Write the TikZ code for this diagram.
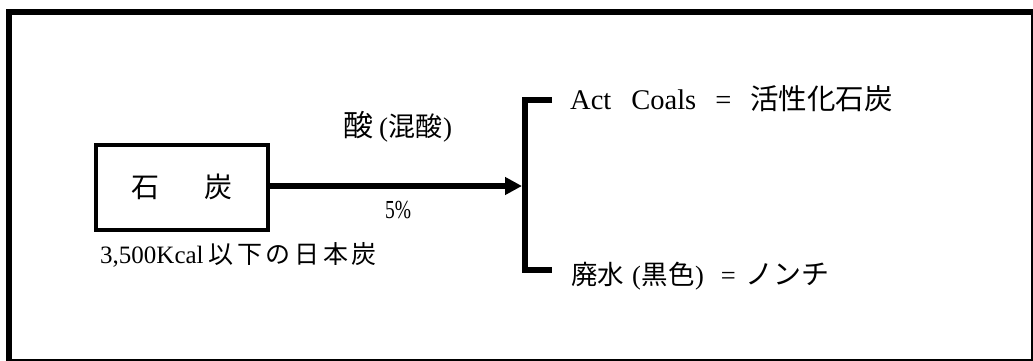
\documentclass[tikz,border=0pt]{standalone}
\usepackage{fontspec}
\setmainfont{Liberation Serif}
\newfontfamily\cjk{Noto Sans CJK JP}
\newfontfamily\condserif{Liberation Serif}[FakeStretch=0.75]
\usetikzlibrary{arrows.meta}
\newcommand\jpc[1]{\makebox[28.7pt][c]{\cjk #1}}
\begin{document}
\begin{tikzpicture}[x=1pt,y=-1pt,
  thickline/.style={line width=6pt},
  lbl/.style={inner sep=0pt, anchor=base west}]
\useasboundingbox (0,0) rectangle (1033,361);
\clip (0,0) rectangle (1033,361);
\fill[white] (0,0) rectangle (1033,361);
\draw[thickline] (9,12) rectangle (1034,362);
% coal box
\node[draw, line width=4pt, minimum width=172pt, minimum height=85.5pt,
      inner sep=0pt, text height=22pt, text depth=2pt,
      font=\cjk\fontsize{28}{30}\selectfont] (coal) at (182,187.25) {石\hspace{46pt}炭};
% bracket
\coordinate (b1) at (552,100);
\coordinate (b2) at (525,100);
\coordinate (b3) at (525,270);
\coordinate (b4) at (552,270);
\draw[thickline] (b1) -- (b2) -- (b3) -- (b4);
% arrow
\coordinate (tip) at (522,186);
\draw[thickline, -{Triangle[length=17pt,width=17pt]}] (coal.east |- tip) -- (tip);
% labels
\node[lbl] (acid) at (343,136) {{\cjk\fontsize{30}{32}\selectfont 酸}\hspace{6pt}{\fontsize{27}{29}\selectfont(\hspace{0.5pt}{\cjk 混酸}\hspace{0.5pt})}};
\node[lbl] (pct) at (385,218) {\condserif\fontsize{26}{28}\selectfont 5\%};
\node[lbl] (coaldesc) at (100,263) {\fontsize{25}{27}\selectfont 3,500Kcal\hspace{3pt}{\fontsize{25}{27}\selectfont\jpc{以}\jpc{下}\jpc{の}\jpc{日}\jpc{本}\jpc{炭}}};
\node[lbl] (act) at (570,109) {\fontsize{28.5}{30}\selectfont Act\hspace{20pt}Coals\hspace{19pt}=\hspace{19pt}{\cjk\fontsize{28.5}{30}\selectfont 活性化石炭}};
\node[lbl] (waste) at (571,284) {\fontsize{26.5}{28}\selectfont {\cjk 廃水}\hspace{8pt}(\hspace{0.5pt}{\cjk 黒色}\hspace{0.5pt})\hspace{17pt}=\hspace{10pt}{\cjk\fontsize{28}{30}\selectfont ノンチ}};
\end{tikzpicture}
\end{document}
